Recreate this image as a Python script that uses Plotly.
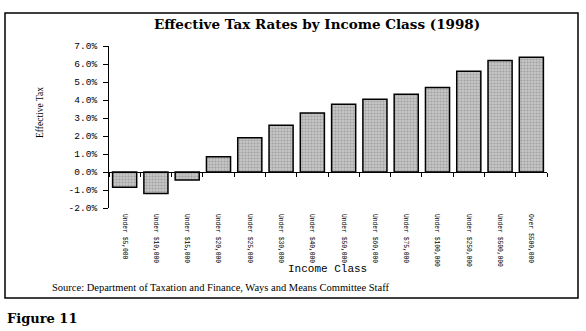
import plotly.graph_objects as go

categories = ["Under $5,000", "Under $10,000", "Under $15,000", "Under $20,000",
              "Under $25,000", "Under $30,000", "Under $40,000", "Under $50,000",
              "Under $60,000", "Under $75,000", "Under $100,000", "Under $250,000",
              "Under $500,000", "Over $500,000"]
rates = [-0.85, -1.2, -0.45, 0.85, 1.9, 2.6, 3.28, 3.76, 4.04, 4.32, 4.7, 5.6, 6.2, 6.37]
ytick_vals = [-2, -1, 0, 1, 2, 3, 4, 5, 6, 7]
ytick_text = ["-2.0%", "-1.0%", "0.0%", "1.0%", "2.0%", "3.0%", "4.0%", "5.0%", "6.0%", "7.0%"]

W, H = 586, 331
L, R, T, B = 109, 39, 46, 123
pw, ph = W - L - R, H - T - B

def px(x):
    return (x - L) / pw

def py(y):
    return (H - B - y) / ph

idx = list(range(len(categories)))
serif = "Liberation Serif"
wide_serif = "DejaVu Serif"
mono = "Liberation Mono"

fig = go.Figure()
fig.add_trace(go.Bar(
    x=idx, y=rates,
    marker=dict(color="#b4b4b4",
                line=dict(color="black", width=1.5),
                pattern=dict(shape=".", fgcolor="#7c7c7c", bgcolor="#c6c6c6",
                             size=3, solidity=0.4)),
    width=0.77, showlegend=False, hoverinfo="skip"))
# invisible trace for the zero-line axis
fig.add_trace(go.Scatter(x=[-0.5, len(categories) - 0.5], y=[0, 0], xaxis="x2",
                         mode="lines", line=dict(width=0), showlegend=False,
                         hoverinfo="skip"))

def note(text, x, y, size, family, xanchor="center", angle=0):
    return dict(text=text, xref="paper", yref="paper", x=px(x), y=py(y),
                xanchor=xanchor, yanchor="middle", textangle=angle,
                showarrow=False, font=dict(family=family, size=size, color="black"))

fig.update_layout(
    width=W, height=H,
    margin=dict(l=L, r=R, t=T, b=B),
    paper_bgcolor="white", plot_bgcolor="white",
    xaxis=dict(range=[-0.5, len(categories) - 0.5], tickmode="array",
               tickvals=idx, ticktext=categories, tickangle=90,
               tickfont=dict(family=mono, size=6.3, color="black"),
               ticklabelstandoff=5,
               showline=False, ticks="", showgrid=False, zeroline=False),
    xaxis2=dict(range=[-0.5, len(categories) - 0.5], overlaying="x",
                anchor="free", position=py(172),
                tickmode="array",
                tickvals=[i - 0.5 for i in range(len(categories) + 1)],
                showticklabels=False, ticks="outside", ticklen=4,
                tickcolor="black", showline=True, linecolor="black",
                linewidth=1, showgrid=False, zeroline=False),
    yaxis=dict(range=[-2, 7], tickmode="array", tickvals=ytick_vals,
               ticktext=ytick_text, ticks="outside", ticklen=5,
               tickcolor="black", showline=True, linecolor="black",
               linewidth=1, showgrid=False, zeroline=False,
               ticklabelstandoff=4,
               tickfont=dict(family=mono, size=9.5, color="black")),
    shapes=[dict(type="rect", xref="paper", yref="paper",
                 x0=px(5), x1=px(578), y0=py(298), y1=py(13),
                 line=dict(color="black", width=1.5))],
    annotations=[
        note("<b>Effective Tax Rates by Income Class (1998)</b>", 317, 24, 13.5, wide_serif),
        note("Effective Tax", 40, 113, 9.5, serif, angle=-90),
        note("Income Class", 327, 269, 11, mono),
        note("Source: Department of Taxation and Finance, Ways and Means Committee Staff",
             50, 287, 10.5, serif, xanchor="left"),
        note("<b>Figure 11</b>", 5, 318, 13, wide_serif, xanchor="left"),
    ],
)

fig.write_html("out.html")
